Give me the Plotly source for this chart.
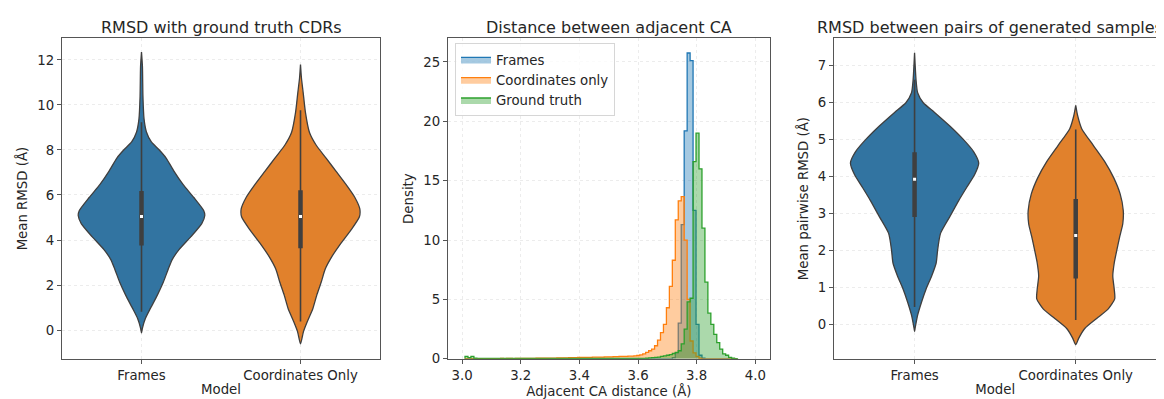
import plotly.graph_objects as go

# ---------------- data ----------------
MODELS = ["Frames", "Coordinates Only"]

# Panel 1: RMSD with ground truth CDRs  (violin outlines: value, half-width in category units)
P1_FRAMES_Y = [-0.13, 0.09, 0.52, 0.96, 1.54, 2.12, 2.70, 3.13, 3.57, 4.15, 4.73, 5.09, 5.31, 5.89, 6.47, 7.05, 7.64, 8.00, 8.36, 8.80, 9.38, 10.39, 11.70, 12.35]
P1_FRAMES_W = [0.0, 0.006, 0.025, 0.056, 0.099, 0.137, 0.168, 0.193, 0.236, 0.311, 0.379, 0.398, 0.391, 0.329, 0.261, 0.205, 0.155, 0.112, 0.062, 0.031, 0.016, 0.009, 0.006, 0.0]
P1_COORD_Y = [-0.62, -0.06, 0.38, 0.96, 1.54, 2.12, 2.70, 3.28, 3.86, 4.44, 5.02, 5.38, 5.89, 6.47, 7.05, 7.64, 8.21, 8.79, 9.67, 10.54, 11.20, 11.80]
P1_COORD_W = [0.0, 0.019, 0.043, 0.078, 0.102, 0.130, 0.155, 0.199, 0.255, 0.317, 0.370, 0.373, 0.342, 0.286, 0.224, 0.161, 0.099, 0.056, 0.031, 0.017, 0.006, 0.0]
# box stats: whisker low, q1, median, q3, whisker high
P1_FRAMES_BOX = [0.81, 3.76, 5.05, 6.18, 9.23]
P1_COORD_BOX = [0.38, 3.63, 5.05, 6.21, 9.77]

# Panel 3: RMSD between pairs of generated samples
P3_FRAMES_Y = [-0.20, -0.12, 0.24, 0.59, 0.94, 1.30, 1.65, 2.00, 2.45, 2.89, 3.33, 3.69, 4.04, 4.35, 4.66, 5.01, 5.36, 5.72, 5.98, 6.25, 6.60, 7.33]
P3_FRAMES_W = [0.0, 0.003, 0.019, 0.043, 0.071, 0.106, 0.134, 0.143, 0.161, 0.217, 0.273, 0.323, 0.373, 0.398, 0.366, 0.298, 0.217, 0.124, 0.054, 0.019, 0.009, 0.0]
P3_COORD_Y = [-0.56, -0.38, -0.12, 0.15, 0.41, 0.68, 0.94, 1.30, 1.65, 2.00, 2.36, 2.71, 3.07, 3.51, 3.95, 4.39, 4.83, 5.28, 5.63, 5.91]
P3_COORD_W = [0.0, 0.019, 0.056, 0.130, 0.202, 0.242, 0.239, 0.230, 0.239, 0.255, 0.273, 0.292, 0.295, 0.276, 0.236, 0.180, 0.109, 0.037, 0.012, 0.0]
P3_FRAMES_BOX = [0.46, 2.89, 3.91, 4.64, 6.60]
P3_COORD_BOX = [0.11, 1.23, 2.39, 3.38, 5.26]

# Panel 2: histogram of adjacent CA distance (density per bin)
HIST_START = 3.010
HIST_BIN = 0.0101
HIST_FRAMES = [0.0] * 69 + [0.0, 0.1, 0.5, 3.0, 11.3, 19.2, 25.75, 25.1, 12.5, 2.9, 0.3, 0.05] + [0.0] * 11
HIST_COORD = ([0.02, 0.0, 0.02, 0.0, 0.02, 0.02, 0.0, 0.02, 0.02, 0.02,
               0.02, 0.02, 0.03, 0.02, 0.03, 0.03, 0.02, 0.03, 0.03, 0.03,
               0.03, 0.04, 0.04, 0.04, 0.05, 0.05, 0.05, 0.05, 0.06, 0.06,
               0.06, 0.07, 0.07, 0.08, 0.08, 0.09, 0.10, 0.10, 0.11, 0.12,
               0.12, 0.13, 0.13, 0.14, 0.14, 0.15, 0.15, 0.16, 0.17, 0.17,
               0.18, 0.19, 0.20, 0.20, 0.21, 0.22, 0.23, 0.25, 0.28,
               0.33, 0.41, 0.55, 0.68, 0.82, 1.1, 1.57, 2.2, 2.9, 4.3, 6.1, 8.3, 11.7, 13.3, 13.65,
               10.0, 5.0, 1.5, 0.5, 0.2, 0.05] + [0.0] * 12)
HIST_TRUTH = ([0.2, 0.1, 0.2, 0.05] + [0.03] * 57 +
              [0.05, 0.08, 0.1, 0.12, 0.15, 0.2, 0.25, 0.3, 0.35, 0.45, 0.55, 0.68, 1.26, 2.5, 4.8, 5.1,
               16.6, 19.0, 16.0, 11.0, 6.45, 3.84, 2.9, 2.06, 1.37, 0.82, 0.41, 0.3, 0.13, 0.05, 0.02])[:92]
HIST_NAMES = ["Frames", "Coordinates only", "Ground truth"]

# ---------------- style ----------------
FONT = "DejaVu Sans"
TXT = "#262626"
VIOLIN_COLORS = ["#3274a1", "#e1812c"]
EDGE = "#3f3f3f"
HIST_LINE = ["#1f77b4", "#ff7f0e", "#2ca02c"]
HIST_FILL = ["rgba(31,119,180,0.4)", "rgba(255,127,14,0.4)", "rgba(44,160,44,0.4)"]

fig = go.Figure()


def add_violin(center, ys, ws, box, color, xa, ya):
    xs = [center + w for w in ws] + [center - w for w in reversed(ws)]
    yy = list(ys) + list(reversed(ys))
    fig.add_trace(go.Scatter(x=xs, y=yy, mode="lines", fill="toself", fillcolor=color,
                             line=dict(color=EDGE, width=1.3, shape="spline", smoothing=0.6),
                             xaxis=xa, yaxis=ya, showlegend=False, hoverinfo="skip"))
    lo, q1, med, q3, hi = box
    fig.add_trace(go.Scatter(x=[center, center], y=[lo, hi], mode="lines",
                             line=dict(color=EDGE, width=1.6), xaxis=xa, yaxis=ya,
                             showlegend=False, hoverinfo="skip"))
    fig.add_trace(go.Scatter(x=[center, center], y=[q1, q3], mode="lines",
                             line=dict(color=EDGE, width=4.5), xaxis=xa, yaxis=ya,
                             showlegend=False, hoverinfo="skip"))
    fig.add_trace(go.Scatter(x=[center], y=[med], mode="markers",
                             marker=dict(color="white", size=3, symbol="square"),
                             xaxis=xa, yaxis=ya, showlegend=False, hoverinfo="skip"))


add_violin(0, P1_FRAMES_Y, P1_FRAMES_W, P1_FRAMES_BOX, VIOLIN_COLORS[0], "x", "y")
add_violin(1, P1_COORD_Y, P1_COORD_W, P1_COORD_BOX, VIOLIN_COLORS[1], "x", "y")
add_violin(0, P3_FRAMES_Y, P3_FRAMES_W, P3_FRAMES_BOX, VIOLIN_COLORS[0], "x3", "y3")
add_violin(1, P3_COORD_Y, P3_COORD_W, P3_COORD_BOX, VIOLIN_COLORS[1], "x3", "y3")

# histograms (step, filled)
for vals, name, lc, fc in zip([HIST_FRAMES, HIST_COORD, HIST_TRUTH], HIST_NAMES, HIST_LINE, HIST_FILL):
    n = len(vals)
    edges = [HIST_START + i * HIST_BIN for i in range(n + 1)]
    xs = [edges[0]] + edges[:n] + [edges[n], edges[n]]
    ys = [0.0] + list(vals) + [vals[-1], 0.0]
    fig.add_trace(go.Scatter(x=xs, y=ys, mode="lines", name=name, fill="tozeroy", fillcolor=fc,
                             line=dict(color=lc, width=1.3, shape="hv"),
                             xaxis="x2", yaxis="y2", hoverinfo="skip"))

W, H = 1164, 399
top, bot = 31, 358
ydom = [1 - bot / H, 1 - top / H]
doms = [[54 / W, 372 / W], [440 / W, 761.7 / W], [826 / W, 1148.3 / W]]

axis_common = dict(showline=True, mirror=True, linecolor="#555555", linewidth=1.1,
                   ticks="outside", ticklen=4, tickwidth=1, tickcolor="#555555",
                   showgrid=True, gridcolor="#ececec", griddash="3px,3px", gridwidth=0.8,
                   zeroline=False, tickfont=dict(family=FONT, size=13.3, color=TXT),
                   title_font=dict(family=FONT, size=13.3, color=TXT))

fig.update_layout(
    width=W, height=H, margin=dict(l=0, r=0, t=0, b=0),
    paper_bgcolor="white", plot_bgcolor="white",
    font=dict(family=FONT, color=TXT),
    xaxis=dict(domain=doms[0], anchor="y", range=[-0.5, 1.5], tickvals=[0, 1], ticktext=MODELS,
               title=dict(text="Model", standoff=2), **axis_common),
    yaxis=dict(domain=ydom, anchor="x", range=[-1.28, 12.96], tickvals=[0, 2, 4, 6, 8, 10, 12],
               title=dict(text="Mean RMSD (Å)", standoff=6), **axis_common),
    xaxis2=dict(domain=doms[1], anchor="y2", range=[2.952, 4.049], tickvals=[3.0, 3.2, 3.4, 3.6, 3.8, 4.0],
                tickformat=".1f", title=dict(text="Adjacent CA distance (Å)", standoff=2), **axis_common),
    yaxis2=dict(domain=ydom, anchor="x2", range=[0, 26.98], tickvals=[0, 5, 10, 15, 20, 25],
                title=dict(text="Density", standoff=6), **axis_common),
    xaxis3=dict(domain=doms[2], anchor="y3", range=[-0.5, 1.5], tickvals=[0, 1], ticktext=MODELS,
                title=dict(text="Model", standoff=2), **axis_common),
    yaxis3=dict(domain=ydom, anchor="x3", range=[-0.94, 7.72], tickvals=[0, 1, 2, 3, 4, 5, 6, 7],
                title=dict(text="Mean pairwise RMSD (Å)", standoff=6), **axis_common),
    legend=dict(x=447 / W, y=1 - 36 / H, xanchor="left", yanchor="top", itemwidth=30,
                bgcolor="rgba(255,255,255,0.8)", bordercolor="#d6d6d6", borderwidth=1,
                font=dict(family=FONT, size=13.3, color=TXT), traceorder="normal"),
    showlegend=True,
)

titles = ["RMSD with ground truth CDRs", "Distance between adjacent CA", "RMSD between pairs of generated samples"]
centers = [(doms[0][0] + doms[0][1]) / 2, (doms[1][0] + doms[1][1]) / 2, 982 / W]
for c, t in zip(centers, titles):
    fig.add_annotation(x=c, y=1 - 20 / H, xref="paper", yref="paper", text=t,
                       showarrow=False, xanchor="center", yanchor="middle",
                       font=dict(family=FONT, size=16, color=TXT))

fig.write_html("out.html")
